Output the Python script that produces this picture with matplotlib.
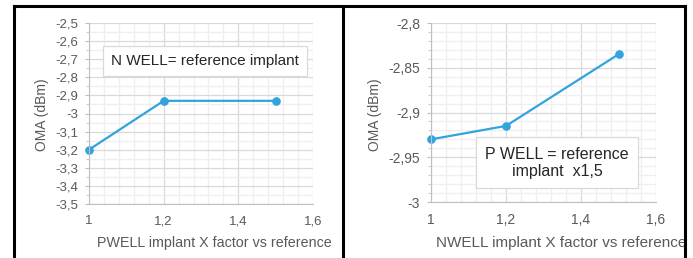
import numpy as np
import matplotlib.pyplot as plt
from matplotlib.ticker import MultipleLocator, FuncFormatter
from matplotlib.patches import Rectangle
from matplotlib.lines import Line2D

plt.rcParams['font.family'] = ['Liberation Sans', 'DejaVu Sans']

# data
pwell_x = [1.0, 1.2, 1.5]
pwell_oma = [-3.2, -2.93, -2.93]
nwell_x = [1.0, 1.2, 1.5]
nwell_oma = [-2.93, -2.915, -2.835]

W, H = 693, 258
fig = plt.figure(figsize=(W / 100, H / 100), dpi=100)

line_c = '#31a3dd'
txt_c = '#595959'


def comma(v, pos):
    return f'{v:g}'.replace('.', ',')


def px_axes(x0, x1, y0, y1):
    return fig.add_axes([x0 / W, 1 - y1 / H, (x1 - x0) / W, (y1 - y0) / H])


def style(ax, ylim, ymaj, ymin, fs):
    ax.set_xlim(1, 1.6)
    ax.set_ylim(*ylim)
    ax.xaxis.set_major_locator(MultipleLocator(0.2))
    ax.xaxis.set_minor_locator(MultipleLocator(0.04))
    ax.yaxis.set_major_locator(MultipleLocator(ymaj))
    ax.yaxis.set_minor_locator(MultipleLocator(ymin))
    ax.xaxis.set_major_formatter(FuncFormatter(comma))
    ax.yaxis.set_major_formatter(FuncFormatter(comma))
    ax.grid(which='major', color='#d9d9d9', lw=0.9)
    ax.grid(which='minor', color='#efefef', lw=0.9)
    ax.set_axisbelow(True)
    for s in ['top', 'right']:
        ax.spines[s].set_visible(False)
    for s in ['left', 'bottom']:
        ax.spines[s].set_color('#bfbfbf')
    ax.tick_params(which='both', colors='#bfbfbf', labelcolor=txt_c, labelsize=fs, length=3, pad=5)
    ax.tick_params(which='minor', length=2, labelleft=False, labelbottom=False)
    ax.tick_params(axis='x', which='both', length=0, pad=8)


ax1 = px_axes(89, 313, 23, 204)
style(ax1, (-3.5, -2.5), 0.1, 0.05, 9.5)
ax1.plot(pwell_x, pwell_oma, color=line_c, lw=1.6, marker='o', ms=5.2, clip_on=False)
ax1.text(0.518, 0.79, 'N WELL= reference implant', transform=ax1.transAxes, ha='center', va='center',
         fontsize=11, color='#262626',
         bbox=dict(boxstyle='square,pad=0.5', fc='white', ec='#d9d9d9', lw=0.9))
fig.text(42 / W, 1 - 115 / H, 'OMA (dBm)', rotation=90, ha='center', va='center', fontsize=10, color=txt_c)
fig.text(97 / W, 1 - 243 / H, 'PWELL implant X factor vs reference', ha='left', va='center',
         fontsize=10.3, color=txt_c)

ax2 = px_axes(431, 656, 23, 202)
style(ax2, (-3.0, -2.8), 0.05, 0.01, 10)
ax2.plot(nwell_x, nwell_oma, color=line_c, lw=1.6, marker='o', ms=5.2, clip_on=False)
ax2.text(0.56, 0.218, 'P WELL = reference\nimplant  x1,5', transform=ax2.transAxes, ha='center', va='center',
         fontsize=11.5, color='#262626', linespacing=1.15,
         bbox=dict(boxstyle='square,pad=0.6', fc='white', ec='#d9d9d9', lw=0.9))
fig.text(375 / W, 1 - 115 / H, 'OMA (dBm)', rotation=90, ha='center', va='center', fontsize=10, color=txt_c)
fig.text(436 / W, 1 - 243 / H, 'NWELL implant X factor vs reference', ha='left', va='center',
         fontsize=11, color=txt_c)

# clip the right label at the frame, then draw the black frame lines
fig.patches.append(Rectangle((686 / W, 0), 1, 1, transform=fig.transFigure, fc='white', ec='none', zorder=5))
for xs, ys in [([14 / W, 14 / W], [0, 1 - 6 / H]),
               ([343 / W, 343 / W], [0, 1 - 6 / H]),
               ([685 / W, 685 / W], [0, 1 - 6 / H]),
               ([14 / W, 685 / W], [1 - 6 / H, 1 - 6 / H])]:
    fig.lines.append(Line2D(xs, ys, transform=fig.transFigure, color='black', lw=2.2, zorder=6))

fig.savefig('out.png', dpi=100)
